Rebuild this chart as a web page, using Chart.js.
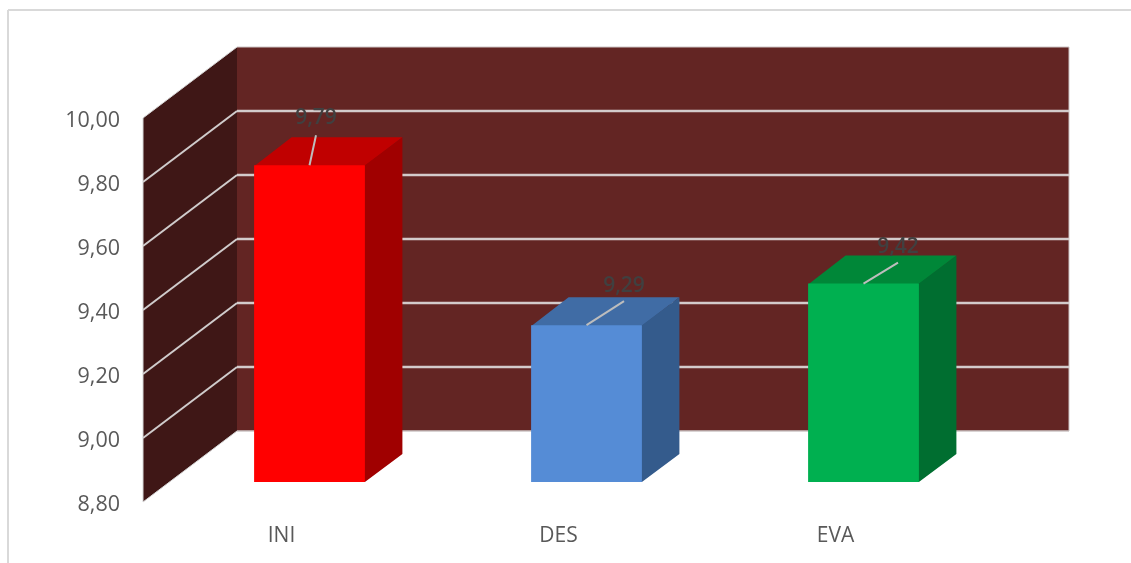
<!DOCTYPE html>
<html>
<head>
<meta charset="utf-8">
<title>Chart</title>
<script src="https://cdn.jsdelivr.net/npm/chart.js@4"></script>
<style>
  html, body { margin: 0; padding: 0; background: #fff; overflow: hidden; }
  canvas { display: block; }
</style>
</head>
<body>
<canvas id="chart" width="1131" height="563"></canvas>
<script>
const categories = ['INI', 'DES', 'EVA'];
const values = [9.79, 9.29, 9.42];
const valueLabels = ['9,79', '9,29', '9,42'];
const yTicks = [8.8, 9.0, 9.2, 9.4, 9.6, 9.8, 10.0];
const yTickLabels = ['8,80', '9,00', '9,20', '9,40', '9,60', '9,80', '10,00'];

const frontColors = ['#ff0000', '#558cd6', '#00b050'];
const topColors = ['#c00000', '#406ca5', '#008738'];
const sideColors = ['#a00000', '#345b8c', '#006e30'];

// the bars sit on a plane between the front of the floor and the back wall
const FRONT = { x: -28, y: 20 };
const BACK = { x: 66, y: -51 };
const DEPTH = { x: 37.5, y: -28 };
const LEADER_TIPS = [{ x: 6.5, y: -30 }, { x: 37.5, y: -24 }, { x: 34.5, y: -21 }];
const LABEL_GAP = [17, 15, 16];

function poly(ctx, pts, fill) {
  ctx.beginPath();
  pts.forEach((p, i) => i ? ctx.lineTo(p[0], p[1]) : ctx.moveTo(p[0], p[1]));
  ctx.closePath();
  ctx.fillStyle = fill;
  ctx.fill();
}

function line(ctx, x1, y1, x2, y2, color, width) {
  ctx.beginPath();
  ctx.moveTo(x1, y1);
  ctx.lineTo(x2, y2);
  ctx.strokeStyle = color;
  ctx.lineWidth = width;
  ctx.stroke();
}

const box3d = {
  id: 'box3d',
  beforeDatasetsDraw(chart) {
    const { ctx, chartArea, scales } = chart;
    const y = scales.y;
    const yLow = y.getPixelForValue(yTicks[0]);
    const yHigh = y.getPixelForValue(yTicks[yTicks.length - 1]);
    const xFront = chartArea.left + FRONT.x;
    const xBack = chartArea.left + BACK.x;
    const xRight = chartArea.right + BACK.x + 1;

    ctx.save();
    // chart frame
    line(ctx, 8, 10, 1131, 10, '#d9d9d9', 2);
    line(ctx, 8, 10, 8, 563, '#d9d9d9', 2);

    // walls
    poly(ctx, [[xBack, yHigh + BACK.y], [xRight, yHigh + BACK.y], [xRight, yLow + BACK.y], [xBack, yLow + BACK.y]], '#632523');
    poly(ctx, [[xFront, yHigh + FRONT.y], [xBack, yHigh + BACK.y], [xBack, yLow + BACK.y], [xFront, yLow + FRONT.y]], '#3f1716');

    // wall edges, the seam between the two walls has none
    line(ctx, xBack, yHigh + BACK.y, xRight, yHigh + BACK.y, '#cdc5c5', 1);
    line(ctx, xRight, yHigh + BACK.y, xRight, yLow + BACK.y, '#cdc5c5', 1);
    line(ctx, xBack, yLow + BACK.y, xRight, yLow + BACK.y, '#cdc5c5', 1.5);
    line(ctx, xFront, yHigh + FRONT.y, xBack, yHigh + BACK.y, '#d5d5d5', 1);
    line(ctx, xFront, yLow + FRONT.y, xBack, yLow + BACK.y, '#d5d5d5', 1);
    line(ctx, xFront, yHigh + FRONT.y, xFront, yLow + FRONT.y, '#d5d5d5', 1);

    // gridlines
    yTicks.slice(1, -1).forEach(t => {
      const py = y.getPixelForValue(t);
      line(ctx, xFront, py + FRONT.y, xBack, py + BACK.y, '#d0cccc', 2);
      line(ctx, xBack, py + BACK.y, xRight, py + BACK.y, '#d3cbcb', 2.5);
    });

    // top and side of each bar, a pixel under the front face so no seam shows
    chart.getDatasetMeta(0).data.forEach((bar, i) => {
      const half = bar.width / 2;
      const l = bar.x - half;
      const r = bar.x + half;
      poly(ctx, [[l, bar.y + 1], [l + DEPTH.x, bar.y + DEPTH.y], [r + DEPTH.x, bar.y + DEPTH.y], [r, bar.y + 1]], topColors[i]);
      poly(ctx, [[r - 1, bar.y], [r, bar.y], [r + DEPTH.x, bar.y + DEPTH.y], [r + DEPTH.x, bar.base + DEPTH.y], [r, bar.base], [r - 1, bar.base]], sideColors[i]);
    });
    ctx.restore();
  },
  afterDatasetsDraw(chart) {
    const { ctx } = chart;
    ctx.save();
    chart.getDatasetMeta(0).data.forEach((bar, i) => {
      const tip = LEADER_TIPS[i];
      line(ctx, bar.x, bar.y, bar.x + tip.x, bar.y + tip.y, '#bdbdbd', 2);
      ctx.font = '600 21px "Open Sans"';
      ctx.fillStyle = '#404040';
      ctx.textAlign = 'center';
      ctx.textBaseline = 'middle';
      ctx.fillText(valueLabels[i], bar.x + tip.x, bar.y + tip.y - LABEL_GAP[i]);
    });
    ctx.restore();
  }
};

new Chart(document.getElementById('chart').getContext('2d'), {
  type: 'bar',
  data: {
    labels: categories,
    datasets: [{
      data: values,
      base: yTicks[0],
      backgroundColor: frontColors,
      borderWidth: 0,
      barPercentage: 1,
      categoryPercentage: 0.4
    }]
  },
  options: {
    responsive: false,
    devicePixelRatio: 1,
    animation: false,
    layout: { padding: { top: 98, right: 129, left: 0, bottom: 0 } },
    plugins: { legend: { display: false }, tooltip: { enabled: false } },
    scales: {
      x: {
        afterFit: s => { s.height = 81; },
        grid: { display: false, drawTicks: false },
        border: { display: false },
        ticks: {
          color: '#595959',
          font: { family: '"Open Sans"', size: 21 },
          padding: 41,
          labelOffset: FRONT.x,
          maxRotation: 0
        }
      },
      y: {
        min: yTicks[0],
        max: yTicks[yTicks.length - 1],
        afterBuildTicks: s => { s.ticks = yTicks.map(value => ({ value })); },
        afterFit: s => { s.width = 171; },
        grid: { display: false, drawTicks: false },
        border: { display: false },
        ticks: {
          color: '#595959',
          font: { family: '"Open Sans"', size: 21.5 },
          padding: 51,
          labelOffset: 23,
          callback: (v, i) => yTickLabels[i]
        }
      }
    }
  },
  plugins: [box3d]
});
</script>
</body>
</html>
